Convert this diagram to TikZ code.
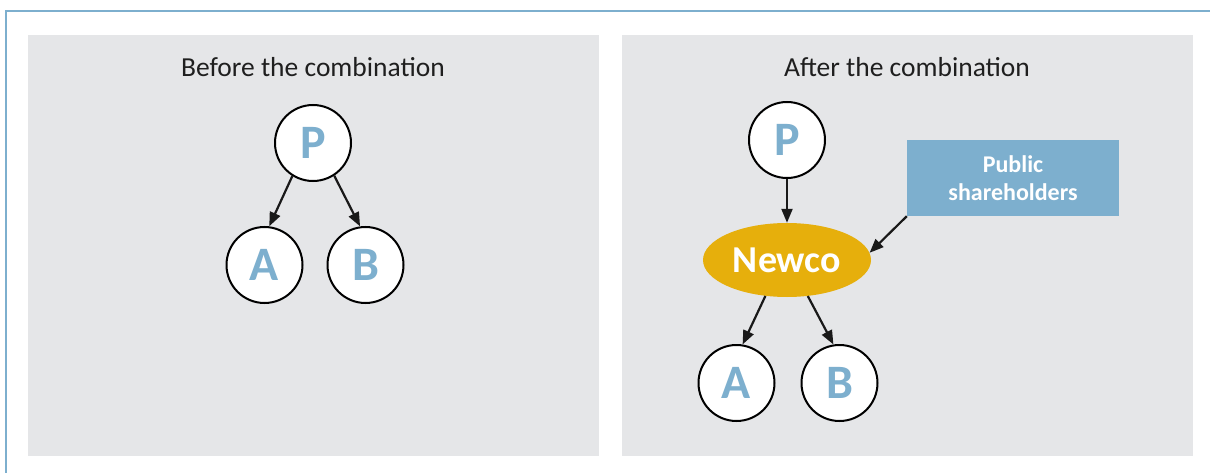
\documentclass[tikz,border=0pt]{standalone}
\usepackage{fontspec}
\setmainfont{Carlito}
\usetikzlibrary{arrows.meta,shapes.geometric}

\definecolor{panelgray}{HTML}{E5E6E8}
\definecolor{softblue}{HTML}{7DAFCE}
\definecolor{newcogold}{HTML}{E6AF0C}

\begin{document}
\begin{tikzpicture}[x=1pt,y=-1pt,
	panel/.style = {fill=panelgray, draw=none},
	title/.style = {anchor=base, font=\fontsize{27.5}{32}\selectfont, text=black!88},
	ent/.style = {draw, circle, line width=2pt, fill=white, minimum size=76pt, inner sep=0pt,
		text=softblue, font=\fontsize{48}{52}\selectfont\bfseries},
	arr/.style = {line width=2.2pt, black!90, -{Triangle[length=14pt,width=11pt]}}]
	
	\def \xl {313} % centre of left panel
	\def \xr {907} % centre of right panel
	
	\useasboundingbox (0,0) rectangle (1210,473);
	\draw[softblue, line width=2.5pt] (6,473) |- (1210,11);
	\fill[panel] (28,35) rectangle (599,456);
	\fill[panel] (622,35) rectangle (1193,456);
	
	% before
	\node[title] (ltitle) at (\xl,77) {Before the combination};
	\node[ent] (lP) at (\xl,143) {P};
	\node[ent] (lA) at (264.5,265) {A};
	\node[ent] (lB) at (365.5,265) {B};
	\draw[arr] (lP.238) -- (lA.83);
	\draw[arr] (lP.303) -- (lB.98);
	
	% after
	\node[title] (rtitle) at (\xr,77) {After the combination};
	\node[ent] (rP) at (787,140) {P};
	\node[ellipse, fill=newcogold, minimum width=168pt, minimum height=74pt, inner sep=0pt, text=white,
		font=\fontsize{38}{40}\selectfont\bfseries] (newco) at (787,260) {Newco};
	\node[fill=softblue, minimum width=212pt, minimum height=76pt, text=white, align=center,
		font=\fontsize{24}{28}\selectfont\bfseries] (pub) at (1013,178) {Public\\shareholders};
	\node[ent] (rA) at (736.5,383) {A};
	\node[ent] (rB) at (839.5,383) {B};
	\draw[arr] (rP) -- (newco);
	\draw[arr] (pub.south west) -- (newco.5);
	\draw[arr] (newco.239) -- (rA.81);
	\draw[arr] (newco.300) -- (rB.99);
\end{tikzpicture}
\end{document}
